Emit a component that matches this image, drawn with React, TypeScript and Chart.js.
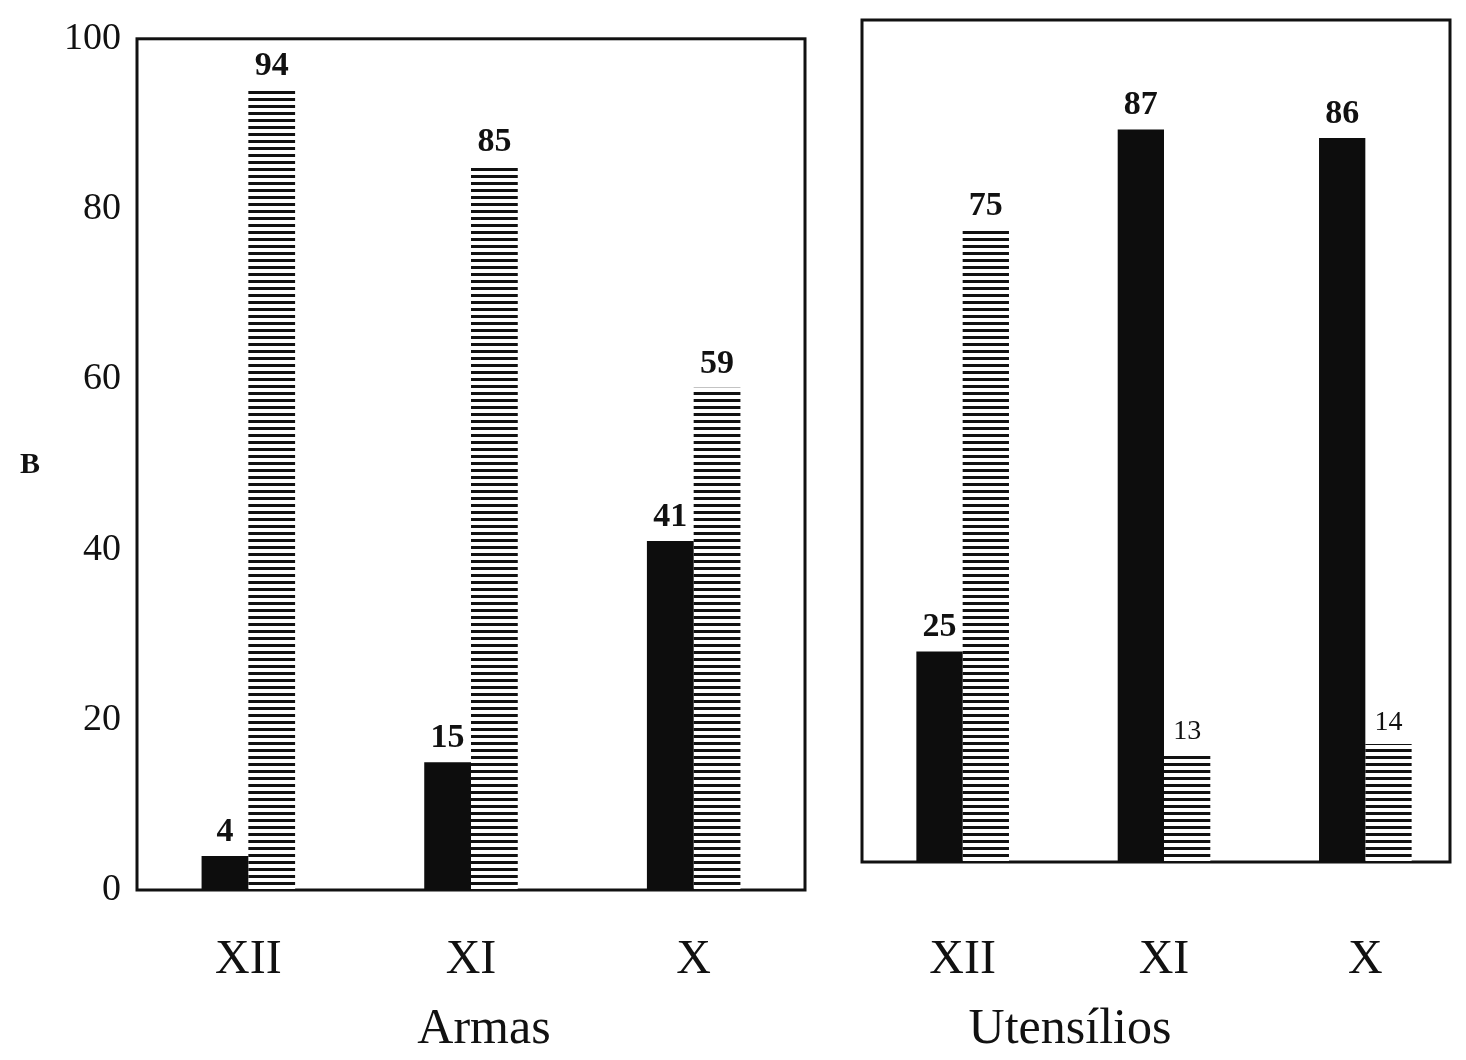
import React, { useEffect, useRef } from "react";
import { Chart, registerables } from "chart.js";

Chart.register(...registerables);

const categories = ["XII", "XI", "X"];
const armasSolid = [4, 15, 41];
const armasHatched = [94, 85, 59];
const utensSolid = [25, 87, 86];
const utensHatched = [75, 13, 14];
const yTicks = [0, 20, 40, 60, 80, 100];
const groupTitles = ["Armas", "Utensílios"];
const yAxisLetter = "B";

const SERIF = "'Liberation Serif', 'DejaVu Serif', serif";

function makeHatch(): CanvasPattern | string {
  const c = document.createElement("canvas");
  c.width = 8;
  c.height = 7;
  const ctx = c.getContext("2d");
  if (!ctx) return "#444";
  ctx.fillStyle = "#ffffff";
  ctx.fillRect(0, 0, 8, 7);
  ctx.fillStyle = "#111111";
  ctx.fillRect(0, 0, 8, 3);
  const p = ctx.createPattern(c, "repeat");
  return p || "#444";
}

const valueLabels = {
  id: "valueLabels",
  afterDatasetsDraw(chart: any) {
    const ctx = chart.ctx;
    ctx.save();
    ctx.fillStyle = "#111";
    ctx.textAlign = "center";
    ctx.textBaseline = "bottom";
    chart.data.datasets.forEach((ds: any, i: number) => {
      const meta = chart.getDatasetMeta(i);
      meta.data.forEach((el: any, j: number) => {
        const v = ds.data[j];
        ctx.font = (v < 20 && i === 1 ? "28px " : "bold 34px ") + SERIF;
        ctx.fillText(String(v), el.x, el.y - 7);
      });
    });
    ctx.restore();
  },
};

const frame = {
  id: "frame",
  beforeDatasetsDraw(chart: any) {
    const a = chart.chartArea;
    const inset = chart.options.plugins.extraText?.frameInsetRight || 0;
    const ctx = chart.ctx;
    ctx.save();
    ctx.strokeStyle = "#111";
    ctx.lineWidth = 3;
    ctx.strokeRect(a.left, a.top, a.right - inset - a.left, a.bottom - a.top);
    ctx.restore();
  },
};

const extraText = {
  id: "extraText",
  afterDraw(chart: any) {
    const opts = chart.options.plugins.extraText;
    if (!opts) return;
    const ctx = chart.ctx;
    ctx.save();
    ctx.fillStyle = "#111";
    ctx.textAlign = "center";
    ctx.textBaseline = "middle";
    if (opts.letter) {
      ctx.font = "bold 30px " + SERIF;
      ctx.fillText(yAxisLetter, 30, 465);
    }
    ctx.font = "50px " + SERIF;
    ctx.fillText(opts.title, opts.titleX, 1030);
    ctx.restore();
  },
};

function buildConfig(solid: number[], hatched: number[], title: string, left: boolean, hatch: any) {
  const cp = left ? 0.42 : 0.46;
  return {
    type: "bar" as const,
    data: {
      labels: categories,
      datasets: [
        {
          label: "solid",
          data: solid,
          backgroundColor: "#0d0d0d",
          barPercentage: 1,
          categoryPercentage: cp,
        },
        {
          label: "hatched",
          data: hatched,
          backgroundColor: hatch,
          barPercentage: 1,
          categoryPercentage: cp,
        },
      ],
    },
    options: {
      animation: false,
      responsive: false,
      layout: {
        padding: left
          ? { left: 0, right: 25, top: 28, bottom: 0 }
          : { left: 32, right: 0, top: 20, bottom: 0 },
      },
      plugins: {
        legend: { display: false },
        tooltip: { enabled: false },
        extraText: { letter: left, title, titleX: left ? 484 : 240, frameInsetRight: left ? 0 : 16 },
      },
      scales: {
        x: {
          grid: { display: false, drawTicks: false },
          border: { display: false },
          ticks: {
            color: "#111",
            font: { family: SERIF, size: 48 },
            padding: left ? 42 : 70,
          },
          afterFit(scale: any) {
            scale.height = left ? 170 : 198;
          },
        },
        y: {
          display: left,
          min: 0,
          max: 100,
          afterBuildTicks(scale: any) {
            scale.ticks = yTicks.map((v) => ({ value: v }));
          },
          grid: { display: false, drawTicks: false },
          border: { display: false },
          ticks: {
            color: "#111",
            font: { family: SERIF, size: 38 },
            padding: 16,
          },
          afterFit(scale: any) {
            if (left) scale.width = 137;
          },
        },
      },
    },
    plugins: [valueLabels, frame, extraText],
  };
}

export default function App() {
  const leftRef = useRef<HTMLCanvasElement>(null);
  const rightRef = useRef<HTMLCanvasElement>(null);

  useEffect(() => {
    const hatch = makeHatch();
    const c1 = new Chart(leftRef.current as HTMLCanvasElement, buildConfig(armasSolid, armasHatched, groupTitles[0], true, hatch) as any);
    const c2 = new Chart(rightRef.current as HTMLCanvasElement, buildConfig(utensSolid, utensHatched, groupTitles[1], false, hatch) as any);
    return () => {
      c1.destroy();
      c2.destroy();
    };
  }, []);

  return (
    <div style={{ position: "absolute", left: 0, top: 0, width: 1466, height: 1060, background: "#fff" }}>
      <canvas ref={leftRef} width={830} height={1060} style={{ position: "absolute", left: 0, top: 0, width: 830, height: 1060 }} />
      <canvas ref={rightRef} width={636} height={1060} style={{ position: "absolute", left: 830, top: 0, width: 636, height: 1060 }} />
    </div>
  );
}
